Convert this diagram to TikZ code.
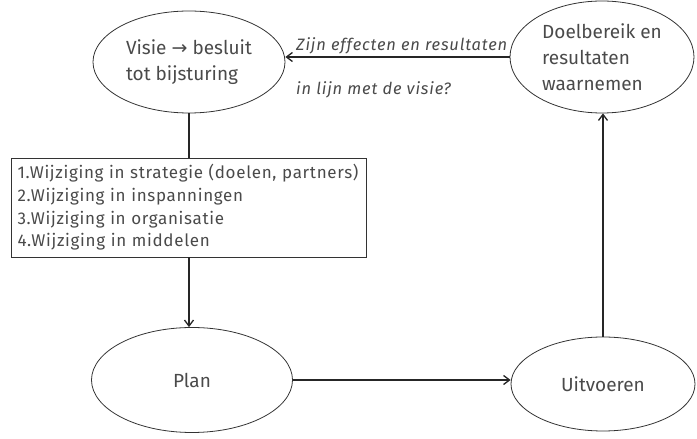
\documentclass[tikz,border=0pt]{standalone}
\usepackage{fontspec}
\setmainfont{Fira Sans}
\newfontfamily\symfont{DejaVu Sans}
\usetikzlibrary{shapes.geometric,arrows.meta}
\definecolor{txt}{HTML}{4A4A4A}
\begin{document}
\begin{tikzpicture}[x=1pt,y=1pt,
  ell/.style={draw=black!80,line width=0.8pt,ellipse,inner sep=0pt,text=txt,font=\fontsize{19}{26}\selectfont,align=left},
  conn/.style={draw=black!85,line width=1.4pt},
  arr/.style={conn,-{Straight Barb[length=6pt,width=9pt,line width=1.3pt]}},
  lbl/.style={text=txt,font=\fontsize{16.5}{18}\selectfont\itshape\addfontfeatures{LetterSpace=5},inner sep=0pt}]
\useasboundingbox (0,0) rectangle (697,439);
\node[ell,minimum width=192pt,minimum height=102pt] (visie) at (189,377) {Visie {\symfont →} besluit\\tot bijsturing};
\node[ell,minimum width=184pt,minimum height=112pt] (doel) at (602,382) {Doelbereik en\\resultaten\\waarnemen};
\node[draw=black!80,line width=0.8pt,minimum width=355pt,minimum height=99pt,text width=343pt,align=left,text=txt,font=\fontsize{17}{22.7}\selectfont\addfontfeatures{LetterSpace=4},inner sep=0pt] (box) at (189,231.5) {1.Wijziging in strategie (doelen, partners)\\2.Wijziging in inspanningen\\3.Wijziging in organisatie\\4.Wijziging in middelen};
\node[ell,minimum width=201pt,minimum height=105pt] (plan) at (192,59) {Plan};
\node[ell,minimum width=184pt,minimum height=94pt] (uit) at (603,55) {Uitvoeren};
\draw[arr] (doel.west) -- (doel.west -| visie.east);
\node[lbl,anchor=west] (l1) at (296,393) {Zijn effecten en resultaten};
\node[lbl,anchor=west] (l2) at (296,349) {in lijn met de visie?};
\draw[conn] (visie.south) -- (visie.south |- box.north);
\draw[arr] (box.south) -- (box.south |- plan.north);
\draw[arr] (plan.east) -- (plan.east -| uit.west);
\draw[arr] (uit.north) -- (uit.north |- doel.south);
\end{tikzpicture}
\end{document}
